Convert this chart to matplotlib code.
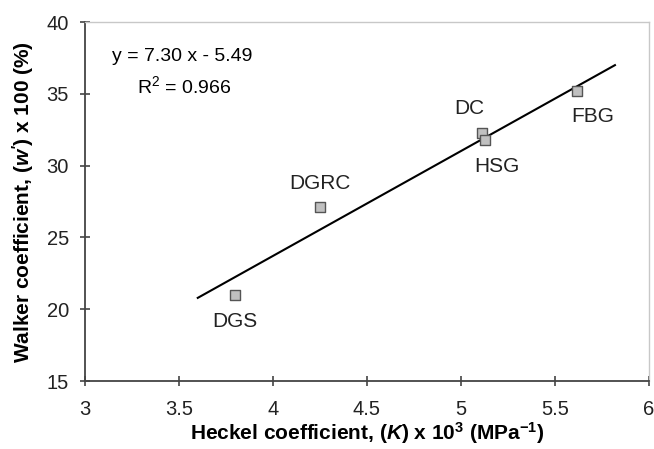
import numpy as np
import matplotlib
matplotlib.use("Agg")
import matplotlib.pyplot as plt

plt.rcParams['font.family'] = ['Liberation Sans', 'DejaVu Sans']
plt.rcParams['mathtext.fontset'] = 'custom'
plt.rcParams['mathtext.rm'] = 'Liberation Sans'
plt.rcParams['mathtext.it'] = 'Liberation Sans:italic'
plt.rcParams['mathtext.bf'] = 'Liberation Sans:bold'
plt.rcParams['mathtext.bfit'] = 'Liberation Sans:italic:bold'

# data
samples = ["DGS", "DGRC", "DC", "HSG", "FBG"]
heckel = [3.80, 4.25, 5.11, 5.13, 5.62]
walker = [21.0, 27.1, 32.3, 31.8, 35.2]

slope = 7.30
intercept = -5.49
r2 = 0.966
fit_x = [3.6, 5.82]

# where each sample name sits relative to its marker (pixels)
label_offsets = {"DGS": (0, -27), "DGRC": (0, 24), "DC": (-12, 24),
                 "HSG": (12, -27), "FBG": (15, -26)}

fig = plt.figure(figsize=(6.54, 4.49), dpi=100)
ax = fig.add_axes([0.130, 0.1514, 0.862, 0.7996])

fx = np.array(fit_x)
ax.plot(fx, slope * fx + intercept, color='black', lw=1.5, zorder=2)
ax.scatter(heckel, walker, marker='s', s=62, facecolor='#c0c0c0',
           edgecolor='#555555', linewidth=1.0, zorder=3)

for name, x, y in zip(samples, heckel, walker):
    ax.annotate(name, (x, y), xytext=label_offsets[name], textcoords='offset pixels',
                ha='center', va='center', fontsize=15, color='#222222')

ax.text(0.048, 0.905, "y = %.2f x - %.2f" % (slope, -intercept),
        transform=ax.transAxes, fontsize=14, va='center', ha='left')
ax.text(0.092, 0.822, r"R$^{2}$ = %.3f" % r2,
        transform=ax.transAxes, fontsize=14, va='center', ha='left')

ax.set_xlim(3, 6)
ax.set_ylim(15, 40)
ax.set_xticks([3, 3.5, 4, 4.5, 5, 5.5, 6])
ax.set_xticklabels(["3", "3.5", "4", "4.5", "5", "5.5", "6"])
ax.set_yticks([15, 20, 25, 30, 35, 40])

ax.tick_params(axis='both', labelsize=14.5, length=7, width=1.2, direction='inout',
               color='#444444', labelcolor='#222222')
ax.tick_params(axis='x', pad=10)
ax.tick_params(axis='y', pad=8)

for s in ['left', 'bottom']:
    ax.spines[s].set_color('#444444')
    ax.spines[s].set_linewidth(1.3)
for s in ['top', 'right']:
    ax.spines[s].set_color('#c8c8c8')
    ax.spines[s].set_linewidth(1.0)

ax.set_xlabel(r"Heckel coefficient, ($\mathbfit{K}$) x 10$^{\mathbf{3}}$ (MPa$^{\mathbf{-1}}$)",
              fontsize=15, fontweight='bold', labelpad=1)
ax.set_ylabel(r"Walker coefficient, ($\mathbfit{w'}$) x 100 (%)",
              fontsize=15, fontweight='bold', labelpad=8)

fig.savefig("out.png", dpi=100)
